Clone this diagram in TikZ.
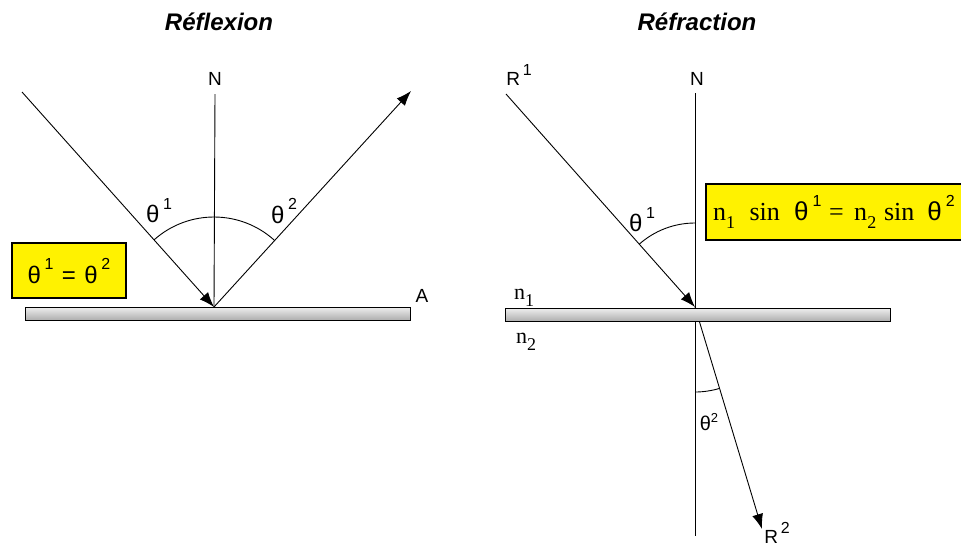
\documentclass[tikz,border=0pt]{standalone}
\usepackage{fontspec}
\setmainfont{Liberation Sans}
\newfontfamily\serifface{Liberation Serif}
\newfontfamily\sansface{Liberation Sans}
\usetikzlibrary{arrows.meta}
\newcommand\supx[1]{\hspace{0.15em}\raisebox{0.55em}{\fontsize{16}{16}\selectfont #1}}
\newcommand\subx[1]{\raisebox{-0.3em}{\fontsize{18}{18}\selectfont #1}}
\begin{document}
\begin{tikzpicture}[x=1pt,y=-1pt,
  ray/.style={line width=0.9pt},
  arrowray/.style={ray,-{Latex[length=15pt,width=11pt]}},
  normal/.style={line width=0.9pt},
  anglearc/.style={line width=0.9pt},
  bar/.style={draw=black,line width=0.9pt,top color=gray!15,bottom color=gray!65,minimum height=13pt,inner sep=0pt},
  lab/.style={font=\fontsize{19}{19}\selectfont,inner sep=0pt},
  thlab/.style={font=\fontsize{24}{24}\selectfont,inner sep=0pt},
  ttl/.style={font=\bfseries\itshape\fontsize{24}{24}\selectfont,inner sep=0pt},
  ybox/.style={draw=black,line width=1.2pt,fill=yellow}]
\useasboundingbox (0,0) rectangle (961,549);
\clip (0,0) rectangle (961,549);

% ---------- Reflexion ----------
\node[ttl] (t1) at (219,22) {Réflexion};
\coordinate (O1) at (214,307);
\coordinate (I1) at (22,92);
\coordinate (R1end) at (411,91);
\coordinate (N1top) at (215,94);
\node[lab] (N1) at (215,79) {N};
\draw[normal] (N1top) -- (O1);
\draw[arrowray] (I1) -- (O1);
\draw[arrowray] (O1) -- (R1end);
\draw[anglearc] ([shift={(228.1:90)}]O1) arc[start angle=228.1,end angle=312.5,radius=90];
\node[thlab] (th1) at (159,211) {θ\supx{1}};
\node[thlab] (th2) at (284,211) {θ\supx{2}};
\node[bar,minimum width=385pt] (bar1) at (217.5,314) {};
\node[lab] (A) at (422,296) {A};
\draw[ybox] (12,243) rectangle (126,298);
\node[thlab] (eq1) at (69,271) {θ\supx{1}\hspace{0.35em}=\hspace{0.35em}θ\supx{2}};

% ---------- Refraction ----------
\node[ttl] (t2) at (697,22) {Réfraction};
\coordinate (O2) at (695,307);
\coordinate (I2) at (506,94);
\coordinate (N2top) at (695,93);
\coordinate (N2bot) at (695,536);
\coordinate (R2end) at (762,529);
\node[lab] (N2) at (697,79) {N};
\node[lab] (Rone) at (519,75) {R\supx{1}};
\draw[normal] (N2top) -- (N2bot);
\draw[arrowray] (I2) -- (O2);
\draw[arrowray] (O2) -- (R2end);
\draw[anglearc] ([shift={(228.4:84)}]O2) arc[start angle=228.4,end angle=270,radius=84];
\draw[anglearc] ([shift={(73.1:85)}]O2) arc[start angle=73.1,end angle=90,radius=85];
\node[thlab] (th3) at (642,220) {θ\supx{1}};
\node[font=\fontsize{20}{20}\selectfont,inner sep=0pt] (th4) at (709,422) {θ\raisebox{0.4em}{\fontsize{13}{13}\selectfont 2}};
\node[lab] (Rtwo) at (777,533) {R\supx{2}};
\node[bar,minimum width=385pt] (bar2) at (697.5,315) {};
\node[font=\serifface\fontsize{22}{22}\selectfont,inner sep=0pt] (n1) at (524,298) {n\subx{1}};
\node[font=\serifface\fontsize{22}{22}\selectfont,inner sep=0pt] (n2) at (526,342) {n\subx{2}};
\draw[ybox] (706,184) rectangle (968,240);
\node[font=\serifface\fontsize{26}{26}\selectfont,inner sep=0pt,anchor=west] (snell) at (713,212)
  {n\subx{1}\hspace{0.55em}sin\hspace{0.55em}{\sansface θ\supx{1}}\hspace{0.3em}=\hspace{0.4em}n\subx{2}\hspace{0.3em}sin\hspace{0.5em}{\sansface θ\supx{2}}};
\end{tikzpicture}
\end{document}
